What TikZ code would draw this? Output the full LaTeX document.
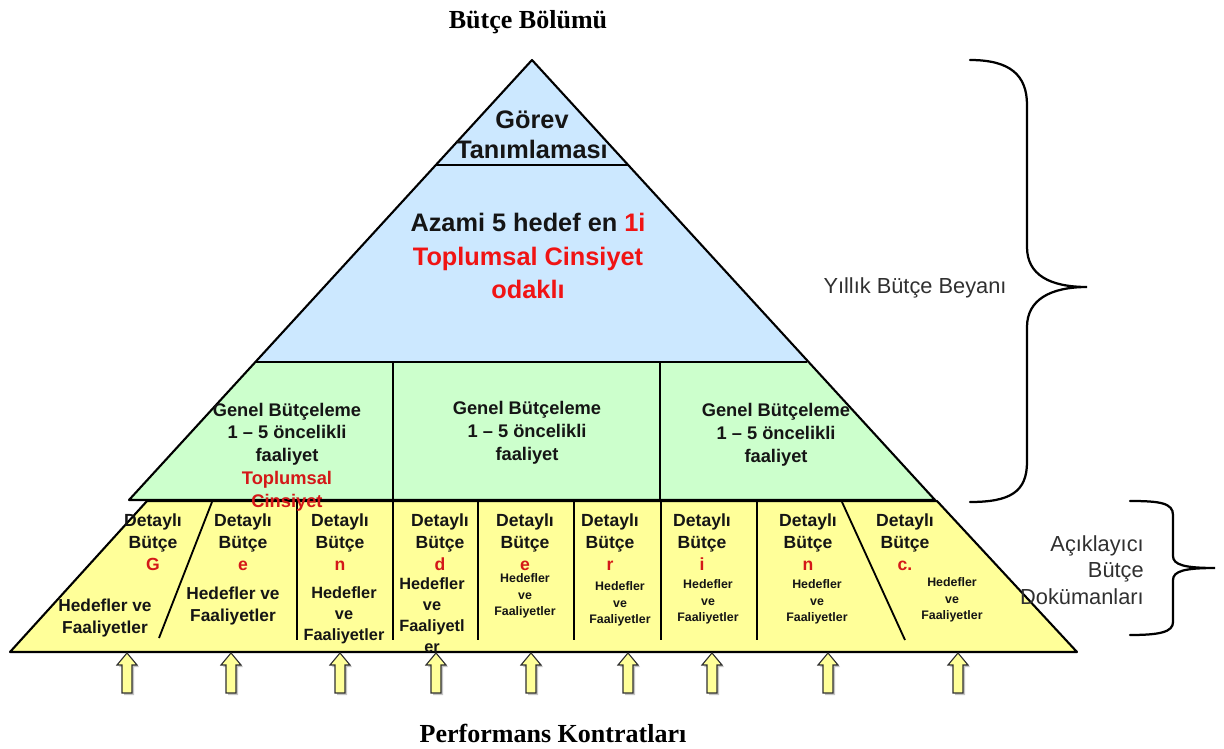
\documentclass[tikz,border=0pt]{standalone}
\usepackage{fontspec}
\setmainfont{Liberation Serif}
\setsansfont{Liberation Sans}
\definecolor{pblue}{HTML}{CCE8FF}
\definecolor{pgreen}{HTML}{CCFFCC}
\definecolor{pyellow}{HTML}{FFFF99}
\definecolor{pred}{HTML}{F01414}
\definecolor{pdred}{HTML}{D41818}
\definecolor{ptext}{HTML}{151515}
\definecolor{pgray}{HTML}{303030}
\newcommand\fGorev{\fontsize{18}{21}\selectfont}
\newcommand\fAzami{\fontsize{18}{24}\selectfont}
\newcommand\fGenel{\fontsize{13}{16.2}\selectfont}
\newcommand\fDet{\fontsize{12.5}{15.6}\selectfont}
\newcommand\fHedA{\fontsize{12.3}{15.6}\selectfont}
\newcommand\fHedB{\fontsize{11.6}{14.8}\selectfont}
\newcommand\fHedC{\fontsize{8.8}{11.6}\selectfont}
\newcommand\fTitle{\fontsize{18.5}{22}\selectfont}
\newcommand\fSide{\fontsize{15.5}{19}\selectfont}
\begin{document}
\begin{tikzpicture}[x=0.025cm,y=-0.025cm,
  outline/.style={draw=black,line width=1.5pt,line join=round},
  thinsep/.style={draw=black,line width=1pt},
  vsep/.style={draw=black,line width=2pt},
  ssep/.style={draw=black,line width=1.3pt},
  pyr/.style={font=\sffamily\bfseries,text=ptext,align=center,inner sep=0pt},
  side/.style={font=\sffamily\fSide,text=pgray,inner sep=0pt},
  ttl/.style={font=\rmfamily\bfseries\fTitle,text=black,inner sep=0pt},
  barrow/.style={fill=pyellow,draw=pgray,line width=0.8pt,line join=miter}]
\useasboundingbox (0,0) rectangle (1224,749);

% fills
\fill[pblue] (532,60) -- (807,362) -- (255,362) -- cycle;
\fill[pgreen] (255,362) -- (807,362) -- (935,500) -- (129,500) -- cycle;
\fill[pyellow] (147,501) -- (937,501) -- (1077,652) -- (10,652) -- cycle;

% dividers in green band
\draw[thinsep] (393,362) -- (393,500);
\draw[thinsep] (660,362) -- (660,500);
% dividers in yellow band
\draw[ssep] (212,502) -- (159,638);
\draw[vsep] (297,502) -- (297,640);
\draw[vsep] (393,502) -- (393,640);
\draw[vsep] (478,502) -- (478,640);
\draw[vsep] (574,502) -- (574,640);
\draw[vsep] (661,502) -- (661,640);
\draw[vsep] (757,502) -- (757,640);
\draw[ssep] (842,502) -- (905,640);

% outlines
\draw[outline] (532,60) -- (935,500) -- (129,500) -- cycle;
\draw[outline] (436,165) -- (628,165);
\draw[outline] (255,362) -- (807,362);
\draw[outline] (147,501) -- (937,501) -- (1077,652) -- (10,652) -- cycle;

% block arrows
\foreach \x [count=\i] in {127,231,340,436,531,628,712,828,958}{
  \fill[gray!45] (\x+2,655) -- (\x+12,667) -- (\x+7,667) -- (\x+7,695) -- (\x-3,695) -- (\x-3,667) -- (\x-8,667) -- cycle;
  \draw[barrow] (\x,653) -- (\x+10,665) -- (\x+5,665) -- (\x+5,693) -- (\x-5,693) -- (\x-5,665) -- (\x-10,665) -- cycle;
  \coordinate (arr\i) at (\x,653);
}

% braces
\draw[line width=1.6pt,line cap=round] (970,60) .. controls (1010,60) and (1027,75) .. (1027,105) -- (1027,247)
  .. controls (1027,275) and (1050,287) .. (1087,287)
  .. controls (1050,287) and (1027,300) .. (1027,327) -- (1027,462)
  .. controls (1027,492) and (1010,502) .. (970,502);
\draw[line width=1.6pt,line cap=round] (1130,501) .. controls (1160,501) and (1173,503) .. (1173,515) -- (1173,556)
  .. controls (1173,565) and (1185,568) .. (1215,568)
  .. controls (1185,568) and (1173,571) .. (1173,580) -- (1173,622)
  .. controls (1173,632) and (1160,635) .. (1130,635);

% titles
\node[ttl] (top) at (528,22) {Bütçe Bölümü};
\node[ttl] (bottom) at (553,733) {Performans Kontratları};

% pyramid texts
\node[pyr,font=\sffamily\bfseries\fGorev] (gorev) at (532,135) {Görev\\Tanımlaması};
\node[pyr,font=\sffamily\bfseries\fAzami] (azami) at (528,256) {Azami 5 hedef en \textcolor{pred}{1i}\\\textcolor{pred}{Toplumsal Cinsiyet}\\\textcolor{pred}{odaklı}};

\node[pyr,font=\sffamily\bfseries\fGenel] (g1) at (287,457) {Genel Bütçeleme\\1 – 5 öncelikli\\faaliyet\\\textcolor{pdred}{Toplumsal}\\\textcolor{pdred}{Cinsiyet}};
\node[pyr,font=\sffamily\bfseries\fGenel] (g2) at (527,433) {Genel Bütçeleme\\1 – 5 öncelikli\\faaliyet};
\node[pyr,font=\sffamily\bfseries\fGenel] (g3) at (776,435) {Genel Bütçeleme\\1 – 5 öncelikli\\faaliyet};

% detail cells
\foreach \x/\l [count=\i] in {153/G,243/e,340/n,440/d,525/e,610/r,702/i,808/n,905/c.}{
  \node[pyr,font=\sffamily\bfseries\fDet] (d\i) at (\x,542) {Detaylı\\Bütçe\\\textcolor{pdred}{\l}};
}
\node[pyr,font=\sffamily\bfseries\fHedA] (h1) at (105,618) {Hedefler ve\\Faaliyetler};
\node[pyr,font=\sffamily\bfseries\fHedA] (h2) at (233,606) {Hedefler ve\\Faaliyetler};
\node[pyr,font=\sffamily\bfseries\fHedB] (h3) at (344,615) {Hedefler\\ve\\Faaliyetler};
\node[pyr,font=\sffamily\bfseries\fHedB] (h4) at (432,615) {Hedefler\\ve\\Faaliyetl\\er};
\node[pyr,font=\sffamily\bfseries\fHedC] (h5) at (525,596) {Hedefler\\ve\\Faaliyetler};
\node[pyr,font=\sffamily\bfseries\fHedC] (h6) at (620,604) {Hedefler\\ve\\Faaliyetler};
\node[pyr,font=\sffamily\bfseries\fHedC] (h7) at (708,602) {Hedefler\\ve\\Faaliyetler};
\node[pyr,font=\sffamily\bfseries\fHedC] (h8) at (817,602) {Hedefler\\ve\\Faaliyetler};
\node[pyr,font=\sffamily\bfseries\fHedC] (h9) at (952,600) {Hedefler\\ve\\Faaliyetler};

% side labels
\node[side] (yillik) at (915,288) {Yıllık Bütçe Beyanı};
\node[side,align=right,anchor=east] (acik) at (1144,570) {Açıklayıcı\\Bütçe\\Dokümanları};
\end{tikzpicture}
\end{document}
